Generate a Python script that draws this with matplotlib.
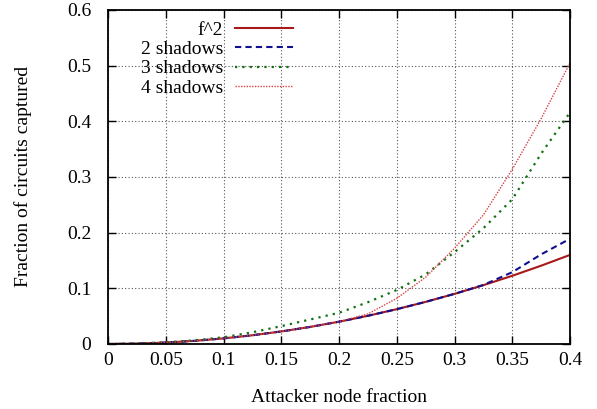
import matplotlib
matplotlib.use('Agg')
import matplotlib.pyplot as plt

plt.rcParams['font.family'] = ['Liberation Serif', 'DejaVu Serif']

# attacker node fraction
frac = [0, 0.025, 0.05, 0.075, 0.1, 0.125, 0.15, 0.175, 0.2, 0.225,
        0.25, 0.275, 0.3, 0.325, 0.35, 0.375, 0.4]

# fraction of circuits captured
f_sq = [0, 0.000625, 0.0025, 0.005625, 0.01, 0.015625, 0.0225, 0.030625, 0.04,
        0.050625, 0.0625, 0.075625, 0.09, 0.105625, 0.1225, 0.140625, 0.16]
shadows_2 = [0, 0.000625, 0.0025, 0.005625, 0.01, 0.015625, 0.0225, 0.030625, 0.04,
             0.050625, 0.0625, 0.075625, 0.09, 0.106, 0.129, 0.161, 0.189]
shadows_3 = [0, 0.0008, 0.003, 0.0065, 0.012, 0.021, 0.032, 0.044, 0.056,
             0.075, 0.097, 0.125, 0.165, 0.208, 0.26, 0.342, 0.416]
shadows_4 = [0, 0.000625, 0.0025, 0.005625, 0.01, 0.015625, 0.0225, 0.030625, 0.04,
             0.054, 0.082, 0.12, 0.172, 0.232, 0.314, 0.405, 0.505]

xticks = [0, 0.05, 0.1, 0.15, 0.2, 0.25, 0.3, 0.35, 0.4]
xtick_labels = ['0', '0.05', '0.1', '0.15', '0.2', '0.25', '0.3', '0.35', '0.4']
yticks = [0, 0.1, 0.2, 0.3, 0.4, 0.5, 0.6]
ytick_labels = ['0', '0.1', '0.2', '0.3', '0.4', '0.5', '0.6']

fig = plt.figure(figsize=(5.97, 4.09), dpi=100)
ax = fig.add_axes([0.181, 0.159, 0.774, 0.817])

ax.plot(frac, f_sq, color='#a81818', lw=1.5, ls='-', label='f^2')
ax.plot(frac, shadows_2, color='#101090', lw=1.5, ls=(0, (3, 2)), label='2 shadows')
ax.plot(frac, shadows_3, color='#107010', lw=1.6, ls=(0, (1, 2.3)), label='3 shadows')
ax.plot(frac, shadows_4, color='#d84040', lw=1.0, ls=(0, (1, 1)), label='4 shadows')

ax.set_xlim(0, 0.4)
ax.set_ylim(0, 0.6)
ax.set_xticks(xticks)
ax.set_xticklabels(xtick_labels)
ax.set_yticks(yticks)
ax.set_yticklabels(ytick_labels)

ax.grid(True, color='#555555', ls=(0, (1, 2)), lw=0.8)
ax.tick_params(direction='in', top=True, right=True, length=6, width=1, labelsize=14)
ax.tick_params(axis='x', pad=6)
ax.tick_params(axis='y', pad=12)
for sp in ax.spines.values():
    sp.set_linewidth(1.3)

ax.set_xlabel('Attacker node fraction', fontsize=14, labelpad=14)
ax.set_ylabel('Fraction of circuits captured', fontsize=14, labelpad=25)

ax.legend(loc='upper right', bbox_to_anchor=(0.40, 0.965), frameon=False,
          markerfirst=False, fontsize=14, handlelength=3.0, labelspacing=0.08,
          borderpad=0, borderaxespad=0, handletextpad=0.6)

fig.savefig('out.png', dpi=100)
